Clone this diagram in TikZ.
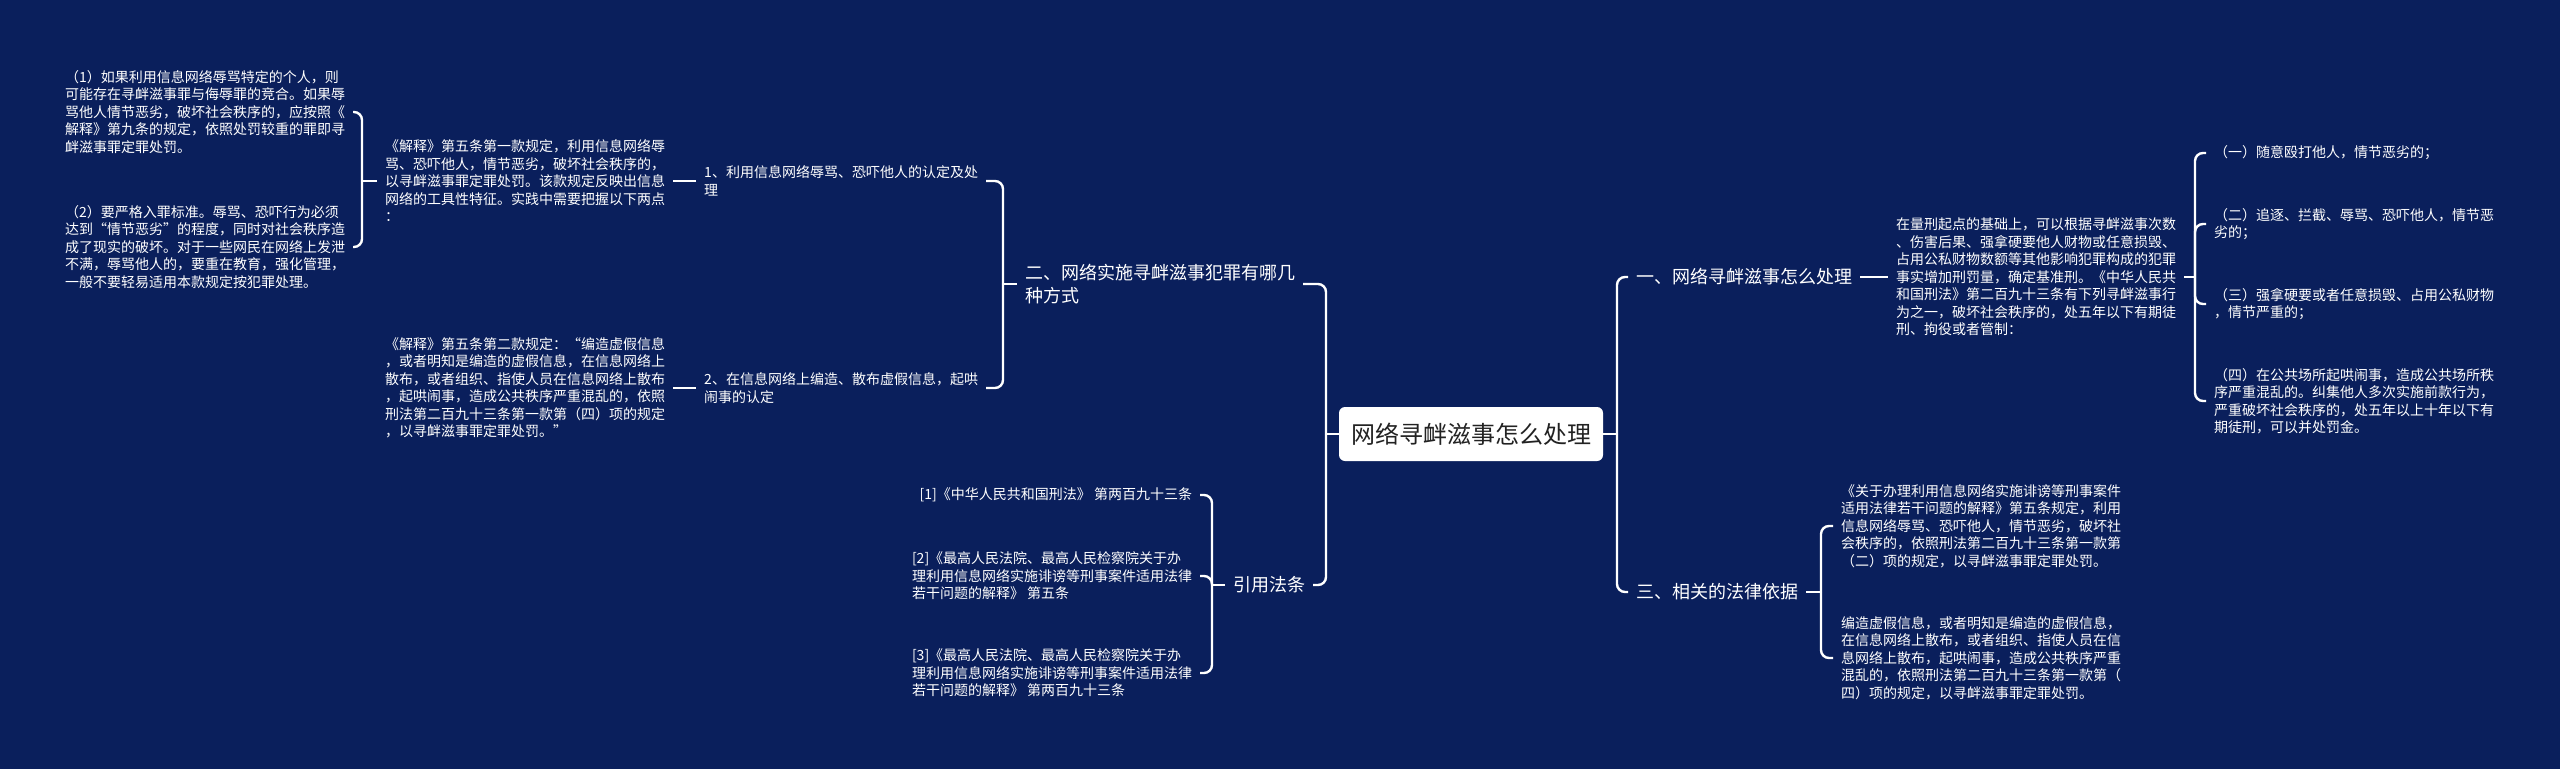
\documentclass[tikz,border=0pt]{standalone}
\usepackage{fontspec}
\setmainfont{Noto Sans CJK SC}
\definecolor{mapBg}{RGB}{10,31,92}
\definecolor{mapInk}{RGB}{34,34,34}

\begin{document}
\begin{tikzpicture}[x=1pt,y=-1pt,
  link/.style={draw=white,line width=2.4pt,rounded corners=8pt},
  leaf/.style={text=white,inner sep=0pt,outer xsep=8pt,align=left,font=\fontsize{14}{17.5}\selectfont},
  topic/.style={text=white,inner sep=0pt,outer xsep=8pt,align=left,font=\fontsize{18}{23.5}\selectfont},
  rootbox/.style={fill=white,rounded corners=6pt,minimum width=264pt,minimum height=54pt,text=mapInk,font=\fontsize{24}{28}\selectfont}]
\fill[mapBg] (0,0) rectangle (2560,769);
\useasboundingbox (0,0) rectangle (2560,769);
% centre
\node[rootbox] (root) at (1471,434) {网络寻衅滋事怎么处理};
% right half
\node[topic,anchor=west] (t1) at (1628,277) {一、网络寻衅滋事怎么处理};
\node[leaf,anchor=west] (t1a) at (1888,277) {在量刑起点的基础上，可以根据寻衅滋事次数\\、伤害后果、强拿硬要他人财物或任意损毁、\\占用公私财物数额等其他影响犯罪构成的犯罪\\事实增加刑罚量，确定基准刑。《中华人民共\\和国刑法》第二百九十三条有下列寻衅滋事行\\为之一，破坏社会秩序的，处五年以下有期徒\\刑、拘役或者管制：};
\node[leaf,anchor=west] (i1) at (2206,153) {（一）随意殴打他人，情节恶劣的；};
\node[leaf,anchor=west] (i2) at (2206,224) {（二）追逐、拦截、辱骂、恐吓他人，情节恶\\劣的；};
\node[leaf,anchor=west] (i3) at (2206,304) {（三）强拿硬要或者任意损毁、占用公私财物\\，情节严重的；};
\node[leaf,anchor=west] (i4) at (2206,401) {（四）在公共场所起哄闹事，造成公共场所秩\\序严重混乱的。纠集他人多次实施前款行为，\\严重破坏社会秩序的，处五年以上十年以下有\\期徒刑，可以并处罚金。};
\node[topic,anchor=west] (t3) at (1628,592) {三、相关的法律依据};
\node[leaf,anchor=west] (t3a) at (1833,526) {《关于办理利用信息网络实施诽谤等刑事案件\\适用法律若干问题的解释》第五条规定，利用\\信息网络辱骂、恐吓他人，情节恶劣，破坏社\\会秩序的，依照刑法第二百九十三条第一款第\\（二）项的规定，以寻衅滋事罪定罪处罚。};
\node[leaf,anchor=west] (t3b) at (1833,658) {编造虚假信息，或者明知是编造的虚假信息，\\在信息网络上散布，或者组织、指使人员在信\\息网络上散布，起哄闹事，造成公共秩序严重\\混乱的，依照刑法第二百九十三条第一款第（\\四）项的规定，以寻衅滋事罪定罪处罚。};
% left half
\node[topic,anchor=east] (t2) at (1303,284) {二、网络实施寻衅滋事犯罪有哪几\\种方式};
\node[leaf,anchor=east] (w1) at (986,181) {1、利用信息网络辱骂、恐吓他人的认定及处\\理};
\node[leaf,anchor=east] (w2) at (986,388) {2、在信息网络上编造、散布虚假信息，起哄\\闹事的认定};
\node[leaf,anchor=east] (w1a) at (673,181) {《解释》第五条第一款规定，利用信息网络辱\\骂、恐吓他人，情节恶劣，破坏社会秩序的，\\以寻衅滋事罪定罪处罚。该款规定反映出信息\\网络的工具性特征。实践中需要把握以下两点\\：};
\node[leaf,anchor=east] (w2a) at (673,388) {《解释》第五条第二款规定：“编造虚假信息\\，或者明知是编造的虚假信息，在信息网络上\\散布，或者组织、指使人员在信息网络上散布\\，起哄闹事，造成公共秩序严重混乱的，依照\\刑法第二百九十三条第一款第（四）项的规定\\，以寻衅滋事罪定罪处罚。”};
\node[leaf,anchor=east] (p1) at (353,112) {（1）如果利用信息网络辱骂特定的个人，则\\可能存在寻衅滋事罪与侮辱罪的竞合。如果辱\\骂他人情节恶劣，破坏社会秩序的，应按照《\\解释》第九条的规定，依照处罚较重的罪即寻\\衅滋事罪定罪处罚。};
\node[leaf,anchor=east] (p2) at (353,247) {（2）要严格入罪标准。辱骂、恐吓行为必须\\达到“情节恶劣”的程度，同时对社会秩序造\\成了现实的破坏。对于一些网民在网络上发泄\\不满，辱骂他人的，要重在教育，强化管理，\\一般不要轻易适用本款规定按犯罪处理。};
\node[topic,anchor=east] (cite) at (1313,585) {引用法条};
\node[leaf,anchor=east] (c1) at (1200,495) {[1]《中华人民共和国刑法》 第两百九十三条};
\node[leaf,anchor=east] (c2) at (1200,576) {[2]《最高人民法院、最高人民检察院关于办\\理利用信息网络实施诽谤等刑事案件适用法律\\若干问题的解释》 第五条};
\node[leaf,anchor=east] (c3) at (1200,673) {[3]《最高人民法院、最高人民检察院关于办\\理利用信息网络实施诽谤等刑事案件适用法律\\若干问题的解释》 第两百九十三条};
% junctions of the brackets
\coordinate (jr) at (1617,434);
\coordinate (jr2) at (2195,277);
\coordinate (jr3) at (1821,592);
\coordinate (jl) at (1326,434);
\coordinate (jl2) at (1003,284);
\coordinate (jl3) at (362,181);
\coordinate (jl4) at (1212,585);
% connectors
\draw[link] (root.east) -- (jr);
\draw[link] (jr) |- (t1.west);
\draw[link] (jr) |- (t3.west);
\draw[link] (t1.east) -- (t1a.west);
\draw[link] (t1a.east) -- (jr2);
\foreach \n in {i1,i2,i3,i4} \draw[link] (jr2) |- (\n.west);
\draw[link] (t3.east) -- (jr3);
\draw[link] (jr3) |- (t3a.west);
\draw[link] (jr3) |- (t3b.west);
\draw[link] (root.west) -- (jl);
\draw[link] (jl) |- (t2.east);
\draw[link] (jl) |- (cite.east);
\draw[link] (t2.west) -- (jl2);
\draw[link] (jl2) |- (w1.east);
\draw[link] (jl2) |- (w2.east);
\draw[link] (w1.west) -- (w1a.east);
\draw[link] (w2.west) -- (w2a.east);
\draw[link] (w1a.west) -- (jl3);
\draw[link] (jl3) |- (p1.east);
\draw[link] (jl3) |- (p2.east);
\draw[link] (cite.west) -- (jl4);
\foreach \n in {c1,c2,c3} \draw[link] (jl4) |- (\n.east);
\end{tikzpicture}
\end{document}
